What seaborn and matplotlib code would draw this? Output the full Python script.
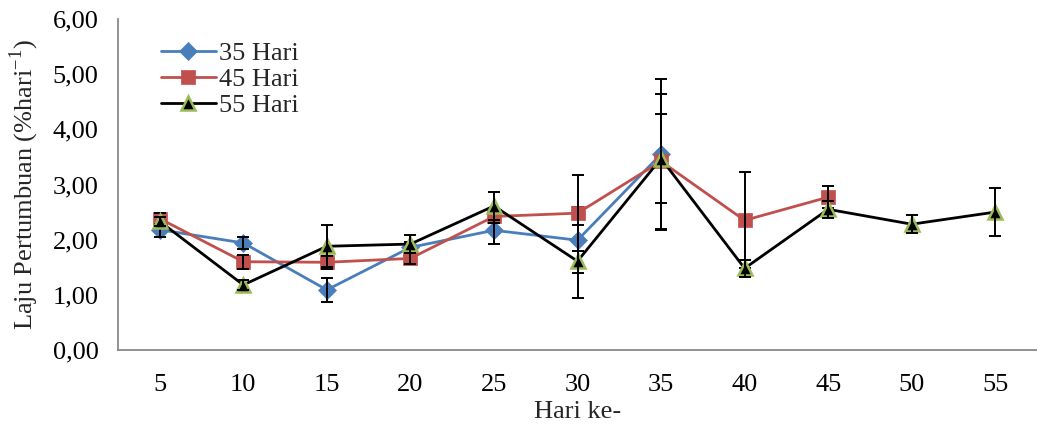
import numpy as np
import pandas as pd
import matplotlib
matplotlib.use("Agg")
import matplotlib.pyplot as plt
import seaborn as sns
from matplotlib.ticker import FixedLocator, FuncFormatter

hari = ["5", "10", "15", "20", "25", "30", "35", "40", "45", "50", "55"]

h35 = [2.18, 1.94, 1.09, 1.86, 2.17, 1.99, 3.55]
h35_err = [0.13, 0.11, 0.22, 0.10, 0.25, 0.60, 1.37]

h45 = [2.38, 1.60, 1.59, 1.66, 2.42, 2.48, 3.42, 2.35, 2.77]
h45_err = [0.10, 0.13, 0.12, 0.10, 0.12, 0.69, 1.22, 0.87, 0.20]

h55 = [2.33, 1.18, 1.88, 1.92, 2.61, 1.61, 3.47, 1.48, 2.55, 2.28, 2.50]
h55_err = [0.08, 0.09, 0.38, 0.16, 0.26, 0.66, 0.81, 0.16, 0.15, 0.16, 0.43]

series = [
    ("35 Hari", h35, h35_err, "#4a7ebb", "D", "#4a7ebb", 9.5),
    ("45 Hari", h45, h45_err, "#c0504d", "s", "#c0504d", 10.5),
    ("55 Hari", h55, h55_err, "#000000", "^", "#9bbb59", 9.5),
]

FS = 19

sns.set_theme(style="white")
plt.rcParams["font.family"] = ["Liberation Serif", "DejaVu Serif"]
plt.rcParams["mathtext.fontset"] = "custom"
plt.rcParams["mathtext.rm"] = "Liberation Serif"

fig = plt.figure(figsize=(10.37, 4.30), dpi=100)
ax = fig.add_axes([0.1138, 0.186, 0.8862, 0.770])

for i, (name, vals, errs, color, marker, edge, ms) in enumerate(series):
    df = pd.DataFrame({"x": np.arange(len(vals)), "y": vals})
    sns.lineplot(data=df, x="x", y="y", ax=ax, color=color, lw=2.0,
                 marker=marker, markersize=ms, markerfacecolor=color,
                 markeredgecolor=edge, markeredgewidth=1.8 if marker == "^" else 0.5,
                 label=name, zorder=3 + i * 2)
    ax.errorbar(df["x"], df["y"], yerr=errs, fmt="none", ecolor="black",
                elinewidth=1.4, capsize=4.5, capthick=1.4, zorder=4 + i * 2)

ax.set_xlim(-0.5, 10.5)
ax.set_ylim(0, 6)
ax.set_xticks(np.arange(len(hari)))
ax.set_xticklabels(hari)
ax.xaxis.set_minor_locator(FixedLocator(np.arange(0.5, 11, 1.0)))
ax.set_yticks(np.arange(0, 7, 1))
ax.yaxis.set_major_formatter(FuncFormatter(lambda v, p: f"{v:.2f}".replace(".", ",")))

grey = "#898989"
for side in ["top", "right"]:
    ax.spines[side].set_visible(False)
for side in ["left", "bottom"]:
    ax.spines[side].set_color(grey)
    ax.spines[side].set_linewidth(1.3)

ax.tick_params(axis="x", which="major", length=0, pad=17, labelsize=FS, colors="black")
ax.tick_params(axis="x", which="minor", length=8, width=1.3, color=grey, direction="inout")
ax.tick_params(axis="y", which="major", length=8, width=1.3, color=grey, labelsize=FS,
               labelcolor="black", pad=6)

ax.set_xlabel("Hari ke-", fontsize=FS, labelpad=4)
ax.set_ylabel("Laju Pertumbuan (%hari$^{-1}$)", fontsize=FS, labelpad=8)

leg = ax.legend(loc="upper left", bbox_to_anchor=(0.035, 0.963), frameon=False,
                fontsize=FS, handlelength=2.1, handletextpad=0.1, labelspacing=0.1,
                borderaxespad=0)

fig.savefig("out.png", dpi=100)
